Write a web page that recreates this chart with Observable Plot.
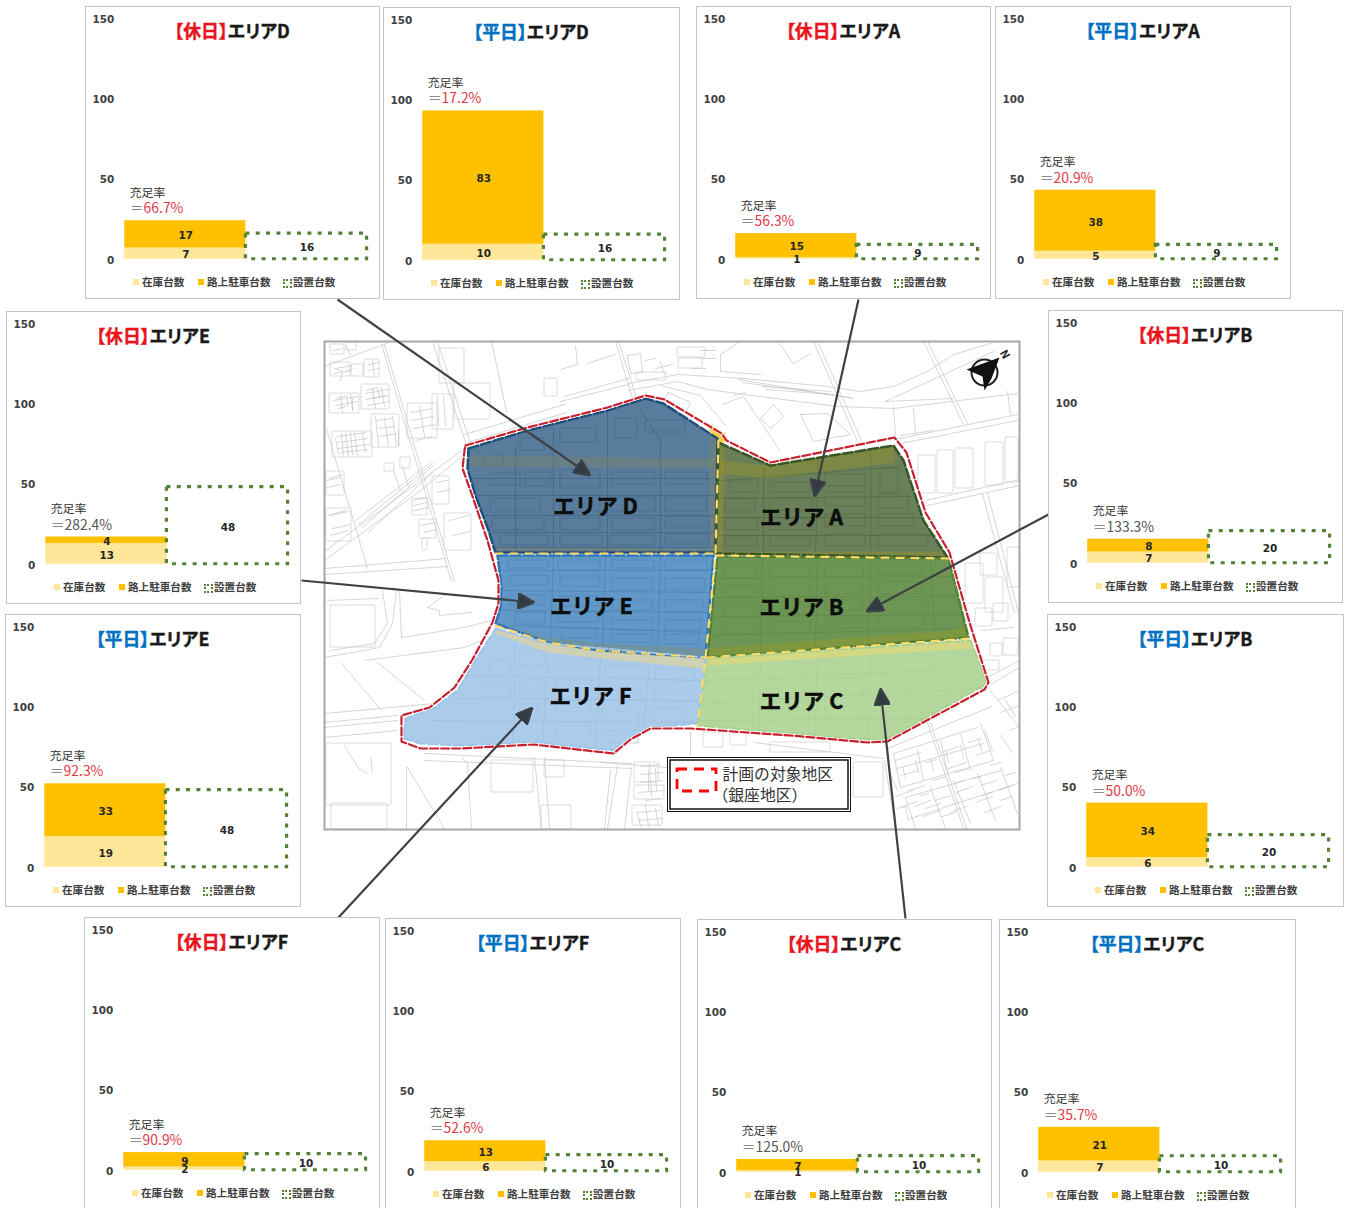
<!DOCTYPE html>
<html lang="ja">
<head>
<meta charset="utf-8">
<title>銀座地区 エリア別 駐車台数</title>
<script src="https://cdn.jsdelivr.net/npm/d3@7"></script>
<script src="https://cdn.jsdelivr.net/npm/@observablehq/plot@0.6"></script>
<style>
  html, body { margin: 0; background: #fff; }
  #page { position: relative; width: 1347px; height: 1208px; overflow: hidden; background: #fff; }
  #page > svg { position: absolute; left: 0; top: 0; }
  .panel { position: absolute; box-sizing: border-box; border: 1px solid #c4c4c4; background: #fff; overflow: hidden; }
  .panel svg { position: absolute; left: -1px; top: -1px; }
  .key { position: absolute; top: 268px; font: 700 10.6px/14px "Noto Sans CJK JP", sans-serif; color: #404040; white-space: nowrap; }
  .swatch { position: absolute; top: 272px; width: 6px; height: 6px; }
  .swatch.box { width: 5px; height: 5px; top: 272px; border: 2px dotted #548235; background: #fff; }
</style>
</head>
<body>
<div id="page"></div>
<script>
// Parking counts per district: weekend and weekday panels
const panelNames = ["D休", "D平", "A休", "A平", "E休", "E平", "B休", "B平", "F休", "F平", "C休", "C平"];
const panelAreas = ["D", "D", "A", "A", "E", "E", "B", "B", "F", "F", "C", "C"];
const panelDays = ["休日", "平日", "休日", "平日", "休日", "平日", "休日", "平日", "休日", "平日", "休日", "平日"];
const stockCounts = [7, 10, 1, 5, 13, 19, 7, 6, 2, 6, 1, 7];
const onStreetCounts = [17, 83, 15, 38, 4, 33, 8, 34, 9, 13, 7, 21];
const installedCounts = [16, 16, 9, 9, 48, 48, 20, 20, 10, 10, 10, 10];
const panelLefts = [85, 383, 696, 995, 6, 5, 1048, 1047, 84, 385, 697, 999];
const panelTops = [6, 7, 6, 6, 311, 614, 310, 614, 917, 918, 919, 919];
const panelWidths = [295, 297, 295, 296, 295, 296, 295, 297, 296, 296, 295, 297];
const panelHeight = 292;

const seriesNames = ["在庫台数", "路上駐車台数", "設置台数"];
const seriesColors = ["#FFE699", "#FFC000", "#548235"];
const yTicks = [0, 50, 100, 150];

// Street network around the district, as flat x,y polylines
const mapRoads = [
  [381,344,451,581],[384,344,454,581],[326,428,367,568],[324,366,391,341],[432,341,467,448],[437,341,471,446],[491,341,506,411],
  [354,521,431,461],[358,524,432,463],[362,527,433,465],[368,532,432,472],[324,551,464,448],[324,560,420,490,466,452],
  [324,568,447,558],[324,574,447,566],[464,434,564,404],[467,442,566,412],
  [628,383,677,374,743,378,827,386,860,391,893,386,927,371,953,354,993,342],
  [560,401,628,384],[628,390,677,381,707,389,760,396,837,406,893,408,1017,393],[564,396,628,378],
  [738,379,853,398],[742,382,850,397],[762,386,830,391],[765,389,832,394],[615,341,632,398],[618,341,636,397],[813,341,857,441],[817,341,861,440],
  [923,341,963,424],[927,341,967,423],[885,401,993,351],[885,401,953,398],[900,438,1017,414],[900,443,1017,420],[860,444,900,438],
  [760,418,773,404,783,416,770,428,760,418],[720,354,740,341],[720,354,720,371,760,374],[777,341,793,363,810,353],
  [722,404,743,396,780,451],[800,414,827,413,850,434,813,441,800,414],[893,406,895,436],[913,408,915,434],[1007,391,1010,414],
  [587,363,615,354],[575,346,577,364,560,369],[627,355,640,353,642,372,630,373,627,355],[660,385,700,395,725,425],[668,392,690,402,684,415,662,404,668,392],
  [327,600,378,598],[324,657,379,647,392,623,396,590],[382,590,387,623,374,643,330,650],[399,590,401,637,464,627,491,620],
  [427,607,439,610,439,615,471,612],[444,595,427,607],[377,662,424,700],[341,663,381,710],[364,660,464,647,481,640],
  [324,713,434,703],[324,722,397,715],[324,727,397,720],[324,737,397,730],[344,745,358,768,367,773],[370,757,372,771],
  [407,767,444,828],[406,767,406,828],[424,753,631,763],[424,760,631,768],[461,757,467,763,471,828],[534,757,541,828],[544,757,549,828],[617,765,607,828],[631,767,624,828],
  [690,732,690,755],[600,762,667,767],[753,742,883,758],[610,770,604,828],
  [927,722,963,828],[930,722,966,828],[990,690,1019,727],[893,753,977,727],[897,768,983,743],[900,787,993,760],[905,797,1000,770],[910,818,1017,783],
  [917,750,923,780],[940,740,948,775],[960,733,970,770],[980,723,993,760],[930,787,945,828],[953,780,970,823],[977,773,995,820],[1000,767,1017,813],
  [893,753,900,787],[905,797,915,828],[887,748,991,706],[884,760,895,828],
  [927,505,1019,485],[925,500,1019,479],[987,492,1018,612],[982,494,1014,612],[980,630,1013,627],[987,677,1019,660],[992,683,1019,667],[900,435,933,430],
  [997,700,1019,690],[1000,712,1019,705],[1009,730,1019,726],
  // small building outlines in the dense quarters
  [334,368,342,371,340,380],[345,372,352,368],[336,398,346,395,348,405,338,408],[352,398,352,410],[366,390,377,387,379,396],[370,398,385,395],
  [337,436,365,432],[337,442,367,438],[337,448,369,444],[340,452,368,449],[345,432,348,456],[354,431,357,455],[376,420,392,418],[378,428,394,426],[378,436,396,433],[384,418,388,444],
  [410,412,432,408],[411,420,433,416],[413,428,434,424],[419,405,424,436],[412,500,426,497],[413,505,427,502],[414,510,428,507],[421,525,434,522],[423,532,436,529],
  [436,482,447,480],[437,492,449,489],[449,520,468,515],[452,535,470,531],[330,515,348,511],[332,528,350,524],[329,478,342,474],
  [640,766,660,764],[640,774,662,772],[640,782,662,780],[649,763,651,796],[638,792,664,790],[636,812,660,810],[638,820,662,818],[645,804,648,826],
  [895,760,920,752],[900,775,918,770],[925,762,936,759],[941,752,958,746],[948,768,966,762],[968,742,980,738],[975,755,990,750],
  [908,790,925,785],[932,780,945,776],[955,772,968,768],[914,806,930,800],[935,800,950,795],[956,792,972,786],[980,785,996,780],[922,816,940,810],[950,812,966,806],[975,802,992,796],[998,790,1012,785],
  [897,808,905,806,908,820],[984,730,992,750],[1000,735,1012,752],[1005,700,1015,716],
  [335,368,352,365],[333,373,350,370],[368,364,378,362],[368,370,378,368],[372,360,374,376],[333,400,357,396],[335,405,357,401],[340,395,342,412],[350,393,352,410],
  [365,393,388,389],[366,399,388,395],[367,405,389,401],[372,388,375,408],[381,387,384,406],[335,438,338,454],[362,433,365,452],[341,433,343,455],[350,431,352,454],
  [375,416,378,445],[392,416,396,445],[398,430,398,445],[437,396,438,425],[443,396,445,425],[415,440,432,436],[346,346,350,354],[332,350,342,348],
  [326,480,340,477],[326,487,340,484],[328,515,345,510],[330,535,348,530],[393,470,400,490],[402,466,408,486],
  [700,350,715,350],[700,358,715,358],[733,395,745,392],[690,368,705,368],[645,360,655,358],[655,368,672,364],[660,362,664,374],
  [648,770,648,790],[655,768,656,790],[637,812,640,826],[655,808,658,826],[645,800,660,798],
  [895,796,912,790],[902,806,916,801],[920,795,928,793],[925,808,940,803],[942,816,955,812],[956,782,964,780],[982,795,992,792],[984,812,1000,806],[1000,800,1012,796],
  [902,766,905,778],[915,760,918,772],[930,758,933,770],[945,750,948,762],[960,745,963,758],[978,738,981,750],[890,775,897,790],[972,778,980,776],[990,765,1000,762],[1005,775,1015,772]
];

// Block footprints as x, y, width, height
const mapBlocks = [
  [330,344,14,10],[346,342,10,8],[330,362,20,14],[351,364,12,12],[364,359,15,18],[329,393,30,20],[361,384,28,25],[332,431,40,26],[371,414,28,33],
  [407,403,30,35],[432,394,21,35],[439,348,25,35],[454,383,36,36],[544,378,13,18],[432,476,17,28],[444,513,27,37],[412,498,15,17],[419,519,17,19],[422,538,5,12],
  [326,471,18,24],[326,508,25,33],[384,463,10,8],[400,457,10,11],[330,605,45,42],[326,743,65,62],[331,803,56,26],[491,760,42,32],[541,805,30,24],[544,760,20,17],
  [634,762,24,20],[634,785,30,14],[632,805,30,20],[703,732,20,15],[730,733,16,12],[853,762,30,35],[770,742,60,10],
  [918,455,17,38],[937,450,16,43],[955,448,18,40],[985,442,18,43],[1005,437,13,45],[980,553,17,22],[1007,547,12,40],[965,563,18,40],[985,577,18,35],[975,608,17,18],[993,603,15,18],
  [990,643,12,13],[1003,638,15,17],[983,660,16,10],[677,347,28,10],[678,358,24,10],[636,372,30,8]
];

// Buildings inside the six areas
const insideBlocks = [
  [483,456,20,9],[520,438,24,12],[560,428,36,14],[615,418,22,20],[645,420,40,12],[490,473,30,12],[525,472,25,14],[560,470,40,18],[612,472,42,12],[665,472,42,12],
  [490,498,50,14],[560,495,40,16],[610,497,45,14],[665,497,42,14],[492,518,52,12],[560,518,40,12],[612,518,42,12],[665,516,44,12],[500,535,48,10],[560,535,42,10],[610,535,44,10],[665,534,44,10],
  [508,560,40,8],[558,560,42,10],[612,560,42,8],[665,560,42,10],[510,575,38,10],[560,576,40,10],[612,578,40,12],[665,578,40,12],[510,595,34,10],[560,596,38,10],[612,600,40,10],[665,600,38,12],
  [515,612,30,12],[558,612,40,10],[612,620,40,10],[665,620,36,10],[560,628,36,10],[612,634,40,8],[665,634,34,10],
  [490,660,20,14],[520,650,24,16],[555,658,36,12],[605,665,38,12],[655,668,40,12],[480,685,30,12],[520,680,22,14],[555,680,36,10],[605,690,36,10],[655,690,38,12],
  [520,703,18,16],[555,700,36,12],[605,712,34,18],[650,708,36,12],[555,722,36,14],[608,735,30,8],
  [730,480,28,12],[770,482,40,10],[825,474,40,12],[880,468,18,24],[725,498,30,14],[770,498,42,12],[825,492,40,14],[878,494,30,14],[725,518,32,12],[770,518,42,12],[825,514,40,12],[878,514,36,12],[725,536,32,10],[770,536,40,10],[825,534,40,12],[878,534,50,12],
  [725,566,30,12],[770,565,40,12],[825,565,38,12],[878,565,44,10],[725,585,30,12],[770,584,40,12],[825,584,38,10],[878,582,44,12],[725,605,30,12],[770,602,40,12],[825,600,38,10],[878,600,50,12],[725,624,30,10],[770,622,40,10],[825,618,38,10],[878,616,46,12],
  [715,670,40,14],[770,668,38,12],[825,666,38,12],[880,660,40,16],[930,660,30,14],[715,692,38,12],[770,688,38,14],[825,686,38,12],[880,682,30,14],[920,678,26,34],[715,712,38,10],[770,710,38,12],[825,706,38,16],[880,704,30,18]
];

// Streets drawn under the tinted areas
const innerStreets = [
  [607,410,607,552],[638,407,660,440,660,552],[553,427,553,552],[515,447,515,552],[470,478,716,478],[475,495,716,495],[482,515,716,515],[487,532,715,532],[492,547,715,547],
  [553,555,550,640],[605,555,602,650],[660,555,657,653],[503,570,712,570],[504,590,711,592],[502,610,708,612],[510,625,707,632],
  [548,643,542,743],[600,657,595,747],[650,657,643,727],[515,640,513,743],[470,675,702,680],[455,698,700,700],[430,720,698,722],
  [763,467,763,552],[818,457,815,552],[870,450,870,553],[722,480,900,466],[720,498,910,496],[720,517,920,517],[718,535,935,535],
  [762,558,760,650],[817,558,815,647],[870,558,868,643],[930,560,935,637],[718,578,955,576],[716,597,958,596],[714,616,962,614],[710,635,965,628],
  [760,657,758,732],[817,652,815,738],[870,647,868,740],[705,680,975,668],[702,702,982,688],[700,720,925,718]
];

// Tinted area polygons, as flat x,y rings
const areaD = [468,448,527,430,607,410,645,398,663,403,717,438,715,552,495,552,488,530,475,495,467,468];
const areaE = [497,555,713,555,705,657,600,650,547,642,495,623,500,607,501,587];
const areaF = [495,628,547,643,705,657,697,723,650,727,630,738,613,750,533,742,460,745,420,743,403,738,405,718,433,708,457,690,473,663];
const areaA = [718,442,770,465,893,445,903,460,923,520,947,557,715,553];
const areaB = [717,556,948,558,968,637,707,657];
const areaC = [707,658,970,640,987,683,890,737,877,740,790,733,697,725];

// Parking-street bands laid over the areas
const bandsBlue = [
  [467,455,717,458,717,468,470,466],[490,547,715,548,715,552,494,552],[709,432,717,438,715,552,709,552],
  [495,622,547,637,600,643,705,648,705,657,600,650,547,642,495,626]
];
const bandsGreen = [
  [720,460,765,465,893,445,895,462,765,478,720,473],[715,551,945,551,948,558,716,556],[708,648,950,630,965,625,968,638,707,657],[716,445,724,448,722,553,715,553]
];
const bandsLight = [[495,628,547,643,705,657,703,668,600,658,547,652,495,633],[707,658,968,640,972,648,707,665]];
const tabRing = [708,423,725,433,723,443,718,440,709,430];

// Boundary of the planning district
const districtRing = [465,445,527,427,607,407,645,395,664,399,721,433,726,440,770,462,894,437,906,452,925,512,949,552,969,622,988,682,984,689,887,741,867,742,790,735,690,728,650,728,630,739,613,753,533,744,460,748,420,748,401,741,401,715,429,707,454,687,472,659,492,622,498,603,498,580,487,540,471,493,462,468,464,450];
const sharedEdges = [
  [495,553,715,553],[495,625,547,642,600,650,705,657],[716,555,948,558],[707,657,968,638],[718,440,715,553,705,657,697,725]
];

// Pointers from each chart to its area: start x,y then tip x,y
const pointerAreas = ["D", "A", "E", "B", "F", "C"];
const pointerStarts = [[337,299],[858,299],[301,580],[1048,514],[338,917],[905,918]];
const pointerTips = [[590,475],[814,496],[534,602],[866,611],[532,707],[880,688]];

const areaLabels = ["エリア D", "エリア A", "エリア E", "エリア B", "エリア F", "エリア C"];
const areaLabelX = [595, 801, 591, 801, 590, 801];
const areaLabelY = [507, 518, 607, 608, 697, 702];

const compassBlade = [966,369,999,357,991,378,984,390,982,376];
const legendLines = ["計画の対象地区", "（銀座地区）"];

const toPoints = (ring) => d3.range(0, ring.length, 2).map((i) => ({x: ring[i], y: ring[i + 1]}));
const linesToRows = (lines) => lines.flatMap((line, id) => toPoints(line).map((p) => ({...p, id})));
const rectRows = (rects) => rects.map(([x, y, w, h]) => ({x1: x, x2: x + w, y1: y, y2: y + h}));
const jp = '"Noto Sans CJK JP", sans-serif';

const polygon = (ring, fill, fillOpacity, extra = {}) =>
  Plot.line(toPoints(ring), {x: "x", y: "y", curve: "linear-closed", fill, fillOpacity, stroke: "none", ...extra});
const outline = (ring, stroke, extra = {}) =>
  Plot.line(toPoints(ring), {x: "x", y: "y", curve: "linear-closed", stroke, strokeWidth: 2.5, strokeDasharray: "10 3", strokeLinejoin: "round", ...extra});

const arrowHead = (color, context) => {
  const svgNS = "http://www.w3.org/2000/svg";
  const marker = context.document.createElementNS(svgNS, "marker");
  marker.setAttribute("viewBox", "0 0 17 16");
  marker.setAttribute("markerUnits", "userSpaceOnUse");
  marker.setAttribute("markerWidth", 17);
  marker.setAttribute("markerHeight", 16);
  marker.setAttribute("refX", 17);
  marker.setAttribute("refY", 8);
  marker.setAttribute("orient", "auto");
  const path = context.document.createElementNS(svgNS, "path");
  path.setAttribute("d", "M0,0L17,8L0,16Z");
  path.setAttribute("fill", "#333b42");
  marker.appendChild(path);
  return marker;
};

// Colours the start and the rest of a single text mark differently
const twoTone = (prefixLength, firstColour, restColour, kerned = false) =>
  function (index, scales, values, dimensions, context, next) {
    const g = next(index, scales, values, dimensions, context);
    const text = g.querySelector("text");
    const content = text.textContent;
    text.textContent = "";
    if (kerned) text.style.fontFeatureSettings = '"palt"';
    [[content.slice(0, prefixLength), firstColour], [content.slice(prefixLength), restColour]].forEach(([part, colour]) => {
      const tspan = context.document.createElementNS("http://www.w3.org/2000/svg", "tspan");
      tspan.setAttribute("fill", colour);
      if (kerned) tspan.setAttribute("stroke", colour);
      tspan.textContent = part;
      text.appendChild(tspan);
    });
    return g;
  };

const pointers = pointerAreas.map((area, i) => ({
  area, x1: pointerStarts[i][0], y1: pointerStarts[i][1], x2: pointerTips[i][0], y2: pointerTips[i][1]
}));
const labelRows = areaLabels.map((text, i) => ({text, x: areaLabelX[i], y: areaLabelY[i]}));

// Map layer and pointers share one page-sized plot in pixel coordinates
const mapPlot = Plot.plot({
  width: 1347, height: 1208, margin: 0,
  x: {domain: [0, 1347], range: [0, 1347], axis: null},
  y: {domain: [0, 1208], range: [0, 1208], axis: null},
  style: {background: "transparent", fontFamily: jp},
  marks: [
    Plot.line(linesToRows(mapRoads), {x: "x", y: "y", z: "id", stroke: "#c4c4c4", strokeWidth: 0.7}),
    Plot.rect(rectRows(mapBlocks), {x1: "x1", x2: "x2", y1: "y1", y2: "y2", fill: "none", stroke: "#cbcbcb", strokeWidth: 0.7, r: 1}),
    Plot.line(linesToRows(innerStreets), {x: "x", y: "y", z: "id", stroke: "#8a8a8a", strokeWidth: 0.6}),
    Plot.rect(rectRows(insideBlocks), {x1: "x1", x2: "x2", y1: "y1", y2: "y2", fill: "none", stroke: "#6a6a6a", strokeWidth: 0.5, strokeOpacity: 0.75}),
    polygon(areaD, "#1F4E79", 0.74),
    polygon(areaE, "#2E75B6", 0.75),
    polygon(areaF, "#9DC3E6", 0.86),
    polygon(areaA, "#375623", 0.75),
    polygon(areaB, "#548235", 0.85),
    polygon(areaC, "#A9D18E", 0.88),
    ...bandsBlue.map((ring) => polygon(ring, "#8a8a50", 0.3)),
    ...bandsGreen.map((ring) => polygon(ring, "#b8a000", 0.25)),
    ...bandsLight.map((ring) => polygon(ring, "#FFD966", 0.42)),
    polygon(tabRing, "#FFC000", 0.8),
    outline(areaD, "#1F4E79"),
    outline(areaE, "#2E75B6"),
    outline(areaA, "#375623"),
    outline(areaB, "#548235"),
    outline(areaF, "#9DC3E6", {strokeWidth: 2}),
    outline(areaC, "#A9D18E", {strokeWidth: 2}),
    Plot.line(linesToRows(sharedEdges), {x: "x", y: "y", z: "id", stroke: "#FFD966", strokeWidth: 2.2, strokeDasharray: "7 8"}),
    Plot.line(toPoints(districtRing), {x: "x", y: "y", curve: "linear-closed", stroke: "#fff", strokeWidth: 3.6, strokeLinejoin: "round"}),
    Plot.line(toPoints(districtRing), {x: "x", y: "y", curve: "linear-closed", stroke: "#C8202E", strokeWidth: 2.2, strokeDasharray: "8 3", strokeLinejoin: "round"}),
    Plot.rect([{x1: 324.5, x2: 1019.5, y1: 341.5, y2: 829.5}], {x1: "x1", x2: "x2", y1: "y1", y2: "y2", fill: "none", stroke: "#a6a6a6", strokeWidth: 2}),
    // compass
    Plot.dot([{x: 984, y: 372}], {x: "x", y: "y", r: 13, fill: "#fff", stroke: "#222", strokeWidth: 2}),
    polygon(compassBlade, "#111", 1),
    Plot.text([{x: 1004, y: 354}], {x: "x", y: "y", text: () => "N", rotate: 60, fontSize: 11, fill: "#222", fontWeight: 700}),
    // legend box
    Plot.rect([{x1: 667.5, x2: 850.5, y1: 757.5, y2: 811.5}], {x1: "x1", x2: "x2", y1: "y1", y2: "y2", fill: "#fff", stroke: "#111", strokeWidth: 1}),
    Plot.rect([{x1: 670, x2: 848, y1: 760, y2: 809}], {x1: "x1", x2: "x2", y1: "y1", y2: "y2", fill: "#fff", stroke: "#111", strokeWidth: 1.5}),
    Plot.rect([{x1: 677, x2: 716, y1: 769, y2: 791}], {x1: "x1", x2: "x2", y1: "y1", y2: "y2", fill: "none", stroke: "#FF0000", strokeWidth: 2.8, strokeDasharray: "10 7"}),
    Plot.text(legendLines, {x: (d, i) => [722, 712][i], y: (d, i) => [774, 795][i], text: (d) => d, textAnchor: "start", fontSize: 15.8, fill: "#333"}),
    // area names and pointers
    Plot.text(labelRows, {x: "x", y: "y", text: "text", fontSize: 21.5, fontWeight: 700, fill: "#0c0c0c", stroke: "#0c0c0c", strokeWidth: 0.5}),
    Plot.link(pointers, {x1: "x1", y1: "y1", x2: "x2", y2: "y2", stroke: "#3d4246", strokeWidth: 2.2, markerEnd: arrowHead})
  ]
});
document.getElementById("page").append(mapPlot);

// One stacked-bar panel per area and day
function parkingPanel(i) {
  const width = panelWidths[i];
  const stock = stockCounts[i], onStreet = onStreetCounts[i], installed = installedCounts[i];
  const total = stock + onStreet;
  const rate = installed / total * 100;
  const rows = [
    {group: "利用", series: seriesNames[0], value: stock},
    {group: "利用", series: seriesNames[1], value: onStreet}
  ];
  const weekend = panelDays[i] === "休日";
  const dayColor = weekend ? "#E8141C" : "#0070C0";
  const rateColor = rate < 100 ? "#E03A46" : "#555";
  const frameCentre = (39.5 + 283.5) / 2;
  const titleShift = width / 2 - frameCentre;
  const bandShift = -56;
  const valueFont = {fontSize: 10.5, fontWeight: 700, fontFamily: "DejaVu Sans, sans-serif", fill: "#262626"};
  const dayPrefix = `【${panelDays[i]}】`;
  const plot = Plot.plot({
    width, height: panelHeight,
    marginLeft: 39.5, marginRight: width - 283.5, marginTop: 12, marginBottom: panelHeight - 254.5,
    x: {domain: ["利用", "設置"], padding: 0, round: false, axis: null},
    y: {domain: [0, 150]},
    color: {domain: seriesNames.slice(0, 2), range: seriesColors.slice(0, 2)},
    style: {background: "transparent", fontFamily: jp, overflow: "visible"},
    marks: [
      Plot.axisY({ticks: yTicks, tickSize: 0, tickPadding: 10, label: null, fontSize: 10.5, fontWeight: 700, fontFamily: "DejaVu Sans, sans-serif", fill: "#404040", dx: -0.5, dy: 1}),
      Plot.barY(rows, {x: "group", y: "value", fill: "series", order: null}),
      Plot.barY([{group: "設置", value: installed}], {x: "group", y: "value", fill: "none", stroke: seriesColors[2], strokeWidth: 3.2, strokeDasharray: "4 6.4"}),
      Plot.text(rows, Plot.stackY({x: "group", y: "value", text: "value", order: null, dx: 0.5, dy: 1.5, ...valueFont})),
      Plot.text([{group: "設置", value: installed / 2}], {x: "group", y: "value", text: () => String(installed), dx: 0.5, dy: 1.5, ...valueFont}),
      Plot.text([{group: "利用", value: total}], {x: "group", y: "value", text: () => "充足率", dx: bandShift, dy: -28, textAnchor: "start", fontSize: 12, fill: "#333"}),
      Plot.text([{group: "利用", value: total}], {
        x: "group", y: "value", text: () => "＝" + rate.toFixed(1) + "%", dx: bandShift, dy: -12, textAnchor: "start", fontSize: 14, letterSpacing: "-0.3px",
        render: twoTone(1, "#8c8c8c", rateColor)
      }),
      Plot.text(["title"], {
        frameAnchor: "top", dx: titleShift, dy: 7, text: () => dayPrefix + `エリア${panelAreas[i]}`, fontSize: 18, fontWeight: 700, strokeWidth: 0.4, stroke: "#1a1a1a",
        render: twoTone(dayPrefix.length, dayColor, "#1a1a1a", true)
      })
    ]
  });

  const panel = document.createElement("div");
  panel.className = "panel";
  panel.setAttribute("aria-label", panelNames[i]);
  panel.style.cssText = `left:${panelLefts[i]}px;top:${panelTops[i]}px;width:${width}px;height:${panelHeight + 1}px;`;
  panel.append(plot);

  // key row below the bars
  const swatchLeft = [47, 112, 197];
  const textLeft = [56, 121, 207];
  seriesNames.forEach((name, k) => {
    const swatch = document.createElement("span");
    swatch.className = k === 2 ? "swatch box" : "swatch";
    swatch.style.left = swatchLeft[k] + "px";
    if (k < 2) swatch.style.background = seriesColors[k];
    const key = document.createElement("span");
    key.className = "key";
    key.style.left = textLeft[k] + "px";
    key.textContent = name;
    panel.append(swatch, key);
  });
  return panel;
}

document.getElementById("page").append(...panelNames.map((_, i) => parkingPanel(i)));
</script>
</body>
</html>
